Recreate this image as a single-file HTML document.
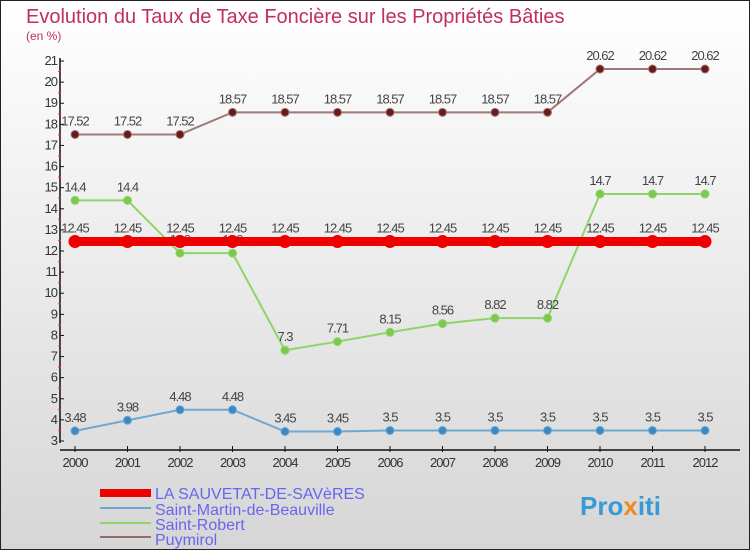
<!DOCTYPE html>
<html><head><meta charset="utf-8"><style>
body{margin:0}
#c{width:750px;height:550px;position:relative;font-family:"Liberation Sans",sans-serif;}
</style></head><body>
<div id="c">
<svg id="s" width="750" height="550" xmlns="http://www.w3.org/2000/svg">
<defs><linearGradient id="bg" x1="0" y1="0" x2="0" y2="1"><stop offset="0" stop-color="#ffffff"/><stop offset="1" stop-color="#d6d6d6"/></linearGradient></defs>
<rect x="0.5" y="0.5" width="749" height="549" fill="url(#bg)" stroke="#222"/>
<text x="26" y="23" font-size="20" fill="#c0305a">Evolution du Taux de Taxe Foncière sur les Propriétés Bâties</text>
<text x="26" y="40" font-size="12" fill="#c0305a">(en %)</text>
<g id="axes"></g><g id="series"></g>
<g>
<rect x="100" y="489" width="51" height="8" fill="#e00"/>
<text x="155" y="499" font-size="16" fill="#6666ee">LA SAUVETAT-DE-SAVèRES</text>
<rect x="100" y="507" width="51" height="2" fill="#6fa7cf"/>
<text x="155" y="515" font-size="16" fill="#6666ee">Saint-Martin-de-Beauville</text>
<rect x="100" y="522" width="51" height="2" fill="#8fd46a"/>
<text x="155" y="530" font-size="16" fill="#6666ee">Saint-Robert</text>
<rect x="100" y="536" width="51" height="2" fill="#9a6a6a"/>
<text x="155" y="545" font-size="16" fill="#6666ee">Puymirol</text>
</g>
<text x="580" y="515" font-size="26" font-weight="bold" fill="#3a9ad8">Pro<tspan fill="#f08a20">x</tspan>iti</text>
</svg></div>
<script>
const years=[2000,2001,2002,2003,2004,2005,2006,2007,2008,2009,2010,2011,2012];
const yTicks=[3,4,5,6,7,8,9,10,11,12,13,14,15,16,17,18,19,20,21];
const laSauvetat=[12.45,12.45,12.45,12.45,12.45,12.45,12.45,12.45,12.45,12.45,12.45,12.45,12.45];
const saintMartin=[3.48,3.98,4.48,4.48,3.45,3.45,3.5,3.5,3.5,3.5,3.5,3.5,3.5];
const saintRobert=[14.4,14.4,11.9,11.9,7.3,7.71,8.15,8.56,8.82,8.82,14.7,14.7,14.7];
const puymirol=[17.52,17.52,17.52,18.57,18.57,18.57,18.57,18.57,18.57,18.57,20.62,20.62,20.62];
const NS="http://www.w3.org/2000/svg";
const X=i=>75+i*52.5, Y=v=>441-(v-3)*21.11;
function el(t,a,p){const e=document.createElementNS(NS,t);for(const k in a)e.setAttribute(k,a[k]);p.appendChild(e);return e;}
const ax=document.getElementById('axes');
let a=el('line',{x1:60,y1:58,x2:60,y2:443,stroke:'#111','stroke-width':1.5},ax);

a=el('line',{x1:60,y1:450,x2:740,y2:450,stroke:'#111','stroke-width':1.5},ax);

yTicks.forEach((v,i)=>{
 el('line',{x1:60,y1:Y(v),x2:64,y2:Y(v),stroke:'#111'},ax);
 if(i<yTicks.length-1)el('line',{x1:58,y1:Y(v+0.5),x2:61,y2:Y(v+0.5),stroke:'#e33'},ax);
 const t=el('text',{x:57,y:Y(v)+4,'font-size':13,fill:'#333','text-anchor':'end','letter-spacing':'-1'},ax);
 t.textContent=v;
});
years.forEach((y,i)=>{
 el('line',{x1:X(i),y1:446,x2:X(i),y2:452,stroke:'#111'},ax);
 const t=el('text',{x:X(i),y:467,'font-size':13,fill:'#333','text-anchor':'middle','letter-spacing':'-1'},ax);
 t.textContent=y;
});
const sg=document.getElementById('series');
function series(data,name,lc,mc,w,r){
 const g=el('g',{},sg);
 el('polyline',{points:data.map((v,i)=>X(i)+','+Y(v)).join(' '),fill:'none',stroke:lc,'stroke-width':w},g);
 data.forEach((v,i)=>{
  const c=el('circle',{cx:X(i),cy:Y(v),r:r,fill:mc,stroke:lc,'stroke-width':1},g);
  
  const t=el('text',{x:X(i),y:Y(v)-9,'font-size':13,fill:'#444','text-anchor':'middle','letter-spacing':'-1'},g);
  t.textContent=v;
 });
}
series(saintMartin,'saint-martin','#6fa7cf','#3a88c4',2,4);
series(saintRobert,'saint-robert','#8fd46a','#7cc94e',2,4);
series(puymirol,'puymirol','#a07878','#6a1a1a',2,4);
series(laSauvetat,'la-sauvetat','#ee0000','#ee0000',9,6);
</script>
</body></html>
